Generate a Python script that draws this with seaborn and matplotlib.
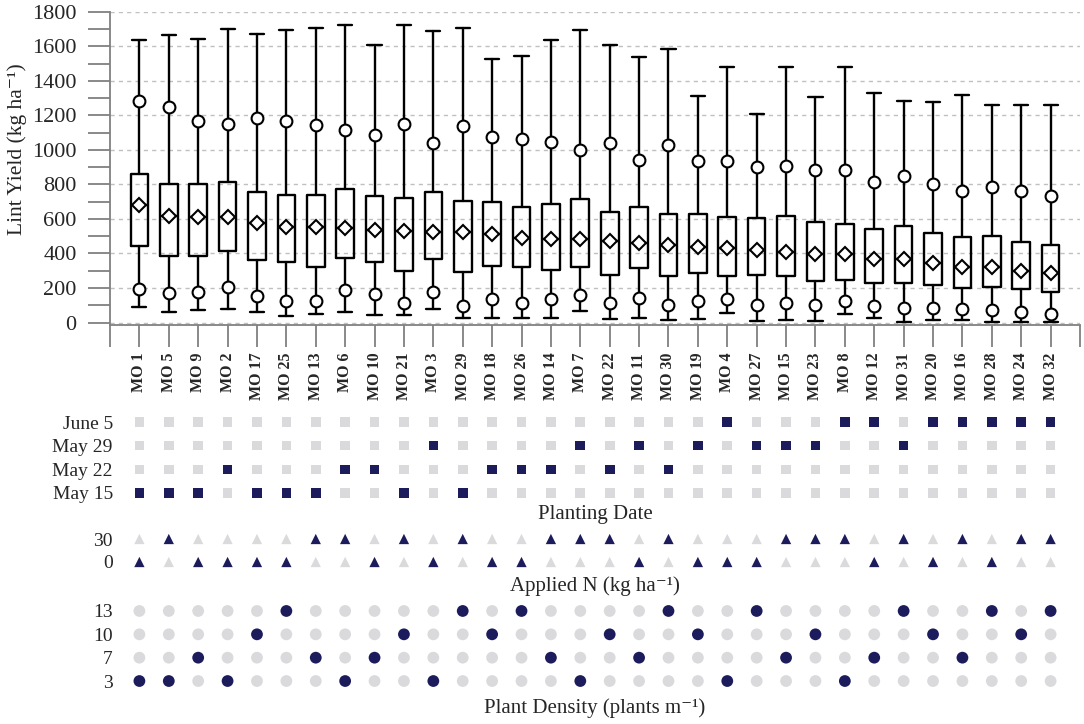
import numpy as np
import pandas as pd
import matplotlib
matplotlib.use("Agg")
import matplotlib.pyplot as plt
from matplotlib.ticker import MultipleLocator
import seaborn as sns

# genotypes in plotted order
genotypes = ["MO 1", "MO 5", "MO 9", "MO 2", "MO 17", "MO 25", "MO 13", "MO 6",
             "MO 10", "MO 21", "MO 3", "MO 29", "MO 18", "MO 26", "MO 14", "MO 7",
             "MO 22", "MO 11", "MO 30", "MO 19", "MO 4", "MO 27", "MO 15", "MO 23",
             "MO 8", "MO 12", "MO 31", "MO 20", "MO 16", "MO 28", "MO 24", "MO 32"]

# lint yield summary (kg/ha)
y_max = [1636, 1665, 1643, 1700, 1671, 1694, 1705, 1724, 1607, 1724, 1686, 1703,
         1528, 1545, 1634, 1694, 1607, 1539, 1582, 1314, 1481, 1206, 1481, 1308,
         1478, 1331, 1283, 1275, 1316, 1262, 1262, 1262]
y_p90 = [1285, 1250, 1169, 1150, 1184, 1169, 1142, 1117, 1086, 1150, 1038, 1138,
         1074, 1065, 1044, 1001, 1042, 941, 1028, 936, 936, 899, 907, 883,
         883, 812, 849, 802, 760, 787, 760, 733]
y_q3 = [860, 802, 802, 816, 754, 737, 737, 775, 733, 720, 756, 706,
        696, 671, 685, 714, 640, 667, 631, 629, 610, 604, 619, 584,
        571, 542, 559, 517, 494, 500, 465, 449]
y_mean = [681, 619, 611, 610, 575, 554, 554, 548, 534, 532, 523, 523,
          511, 492, 484, 482, 473, 459, 449, 436, 430, 421, 409, 397,
          395, 368, 367, 345, 324, 320, 301, 285]
y_median = list(y_mean)  # median line runs through the mean diamond
y_q1 = [446, 386, 388, 417, 365, 353, 320, 372, 349, 301, 367, 295,
        330, 322, 305, 320, 278, 316, 270, 285, 268, 276, 268, 243,
        247, 231, 228, 220, 203, 208, 193, 176]
y_p10 = [197, 174, 175, 204, 154, 123, 127, 189, 168, 112, 176, 96,
         135, 116, 135, 158, 116, 143, 102, 125, 135, 102, 116, 102,
         125, 96, 85, 83, 77, 71, 60, 52]
y_min = [91, 62, 71, 77, 62, 37, 50, 62, 42, 44, 77, 29,
         29, 29, 29, 66, 19, 25, 15, 21, 54, 10, 15, 10,
         48, 29, 6, 15, 15, 6, 6, 4]

# management factors
date_levels = ["May 15", "May 22", "May 29", "June 5"]
planting_date = ["May 15", "May 15", "May 15", "May 22", "May 15", "May 15", "May 15", "May 22",
                 "May 22", "May 15", "May 29", "May 15", "May 22", "May 22", "May 22", "May 29",
                 "May 22", "May 29", "May 22", "May 29", "June 5", "May 29", "May 29", "May 29",
                 "June 5", "June 5", "May 29", "June 5", "June 5", "June 5", "June 5", "June 5"]
n_levels = ["0", "30"]
applied_n = ["0", "30", "0", "0", "0", "0", "30", "30", "0", "30", "0", "30", "0", "0", "30", "30",
             "30", "0", "30", "0", "0", "0", "30", "30", "30", "0", "30", "0", "30", "0", "30", "30"]
dens_levels = ["3", "7", "10", "13"]
density = ["3", "3", "7", "3", "10", "13", "7", "3", "7", "10", "3", "13", "10", "13", "7", "3",
           "10", "7", "13", "10", "3", "13", "7", "10", "3", "7", "13", "10", "7", "13", "10", "13"]

navy = "#1c1c5c"
light = "#dadadd"
grey = "#808080"

sns.set_theme(style="white")
plt.rcParams["font.family"] = ["Liberation Serif", "DejaVu Serif"]

fig = plt.figure(figsize=(10.84, 7.24), dpi=100)
W, H = 1084, 724


def px_axes(left, top, right, bottom):
    return fig.add_axes([left / W, 1 - bottom / H, (right - left) / W, (bottom - top) / H])


pos = np.arange(len(genotypes))

# ---- box plot panel
ax = px_axes(110, 11.7, 1080, 325)
stats = []
for i in range(len(genotypes)):
    stats.append(dict(whislo=y_min[i], q1=y_q1[i], med=y_median[i], q3=y_q3[i],
                      whishi=y_max[i], mean=y_mean[i], fliers=[]))
lw = 1.7
ax.bxp(stats, positions=pos, widths=0.6, showmeans=True, showfliers=False,
       boxprops=dict(color="black", linewidth=lw),
       whiskerprops=dict(color="black", linewidth=lw),
       capprops=dict(color="black", linewidth=lw),
       medianprops=dict(color="black", linewidth=lw),
       meanprops=dict(marker="D", markerfacecolor="white", markeredgecolor="black",
                      markersize=7, markeredgewidth=1.5),
       capwidths=0.48, manage_ticks=False)
pct = pd.DataFrame({"x": np.concatenate([pos, pos]), "y": y_p10 + y_p90})
ax.plot(pct["x"], pct["y"], linestyle="none", marker="o", markersize=8.5,
        markerfacecolor="white", markeredgecolor="black", markeredgewidth=1.5, zorder=4)

ax.set_xlim(-1, 32)
ax.set_ylim(-14, 1800)
ax.yaxis.set_major_locator(MultipleLocator(200))
ax.yaxis.set_minor_locator(MultipleLocator(100))
ax.set_xticks(np.arange(-1, 33))
ax.set_xticklabels([""] + genotypes + [""], rotation=90, fontsize=11.5, fontweight="bold")
ax.tick_params(axis="x", direction="out", length=16, width=1.3, color=grey, pad=4,
               bottom=True)
ax.tick_params(axis="y", which="both", direction="out", length=16, width=1.3, color=grey,
               pad=8, labelsize=16, left=True)
ax.grid(axis="y", which="major", color="#c0c0c0", linestyle=(0, (3, 3)), linewidth=1)
ax.set_axisbelow(True)
for s in ["top", "right"]:
    ax.spines[s].set_visible(False)
for s in ["left", "bottom"]:
    ax.spines[s].set_color(grey)
    ax.spines[s].set_linewidth(1.3)
ax.set_ylabel("Lint Yield (kg ha\u207b\u00b9)", fontsize=15.5)
ax.yaxis.set_label_coords(-0.086, 0.56)


def factor_panel(top, bottom, values, levels, marker, size, label, labelpad):
    a = px_axes(110, top, 1080, bottom)
    rows = []
    for i, g in enumerate(genotypes):
        for j, lv in enumerate(levels):
            rows.append({"x": i, "level": j, "on": values[i] == lv})
    df = pd.DataFrame(rows)
    sns.scatterplot(data=df, x="x", y="level", hue="on", palette={False: light, True: navy},
                    marker=marker, s=size, linewidth=0, legend=False, ax=a)
    a.set_xlim(-1, 32)
    a.set_ylim(-0.5, len(levels) - 0.5)
    a.set_yticks(range(len(levels)))
    a.set_yticklabels(levels, fontsize=14)
    a.set_xticks([])
    a.tick_params(axis="y", length=0, pad=-2)
    for s in a.spines.values():
        s.set_visible(False)
    a.set_ylabel("")
    a.set_xlabel(label, fontsize=15, labelpad=labelpad)
    return a


factor_panel(410.2, 504.8, planting_date, date_levels, "s", 48, "Planting Date", 0)
factor_panel(527.5, 573.5, applied_n, n_levels, "^", 55, "Applied N (kg ha\u207b\u00b9)", 2)
factor_panel(599.3, 692.7, density, dens_levels, "o", 72, "Plant Density (plants m\u207b\u00b9)", 4)

fig.savefig("out.png", dpi=100)
